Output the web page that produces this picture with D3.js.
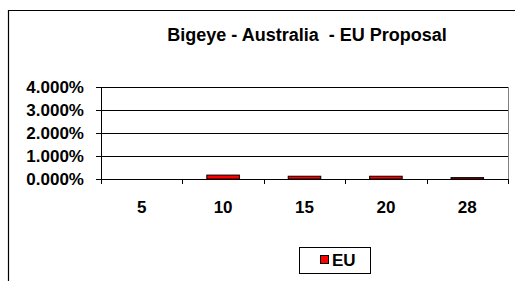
<!DOCTYPE html>
<html>
<head>
<meta charset="utf-8">
<script src="https://cdn.jsdelivr.net/npm/d3@7"></script>
<style>
  body { margin: 0; background: #fff; }
  text { font-family: Arial, "Liberation Sans", sans-serif; font-weight: bold; fill: #000; white-space: pre; }
</style>
</head>
<body>
<div id="chart"></div>
<script>
// chart data
const categories = ['5', '10', '15', '20', '28'];
const euValues = [0, 0.0017, 0.0012, 0.0012, 0.0006];
const yTicks = [0, 0.01, 0.02, 0.03, 0.04];
const seriesName = 'EU';
const title = 'Bigeye - Australia  - EU Proposal';

const width = 515, height = 281;
const plot = { left: 101, right: 508, top: 87, bottom: 179 };

const svg = d3.select('#chart').append('svg')
    .attr('width', width)
    .attr('height', height);

// outer chart frame (only top and left edges visible)
svg.append('path')
    .attr('d', `M8.5,${height} V10.5 H${width}`)
    .attr('fill', 'none')
    .attr('stroke', '#000')
    .attr('stroke-width', 1.2);

svg.append('text')
    .attr('x', 307)
    .attr('y', 41)
    .attr('text-anchor', 'middle')
    .attr('font-size', '18px')
    .text(title);

const x = d3.scaleBand()
    .domain(categories)
    .range([plot.left, plot.right]);

const y = d3.scaleLinear()
    .domain([0, 0.04])
    .range([plot.bottom, plot.top]);

// gridlines
svg.append('g')
    .selectAll('line')
    .data(yTicks)
    .join('line')
    .attr('x1', plot.left - 5)
    .attr('x2', plot.right)
    .attr('y1', d => Math.round(y(d)) + 0.5)
    .attr('y2', d => Math.round(y(d)) + 0.5)
    .attr('stroke', '#000')
    .attr('stroke-width', 1);

// right edge of plot area
svg.append('line')
    .attr('x1', plot.right + 0.5).attr('x2', plot.right + 0.5)
    .attr('y1', plot.top).attr('y2', plot.bottom)
    .attr('stroke', '#808080');

// y axis
svg.append('line')
    .attr('x1', plot.left + 0.5).attr('x2', plot.left + 0.5)
    .attr('y1', plot.top).attr('y2', plot.bottom)
    .attr('stroke', '#000');

svg.append('g')
    .selectAll('text')
    .data(yTicks)
    .join('text')
    .attr('x', 84)
    .attr('y', d => y(d))
    .attr('dy', '0.36em')
    .attr('text-anchor', 'end')
    .attr('font-size', '17px')
    .text(d => d3.format('.3%')(d));

// x axis ticks between categories
const tickPos = categories.map(c => x(c)).concat([plot.right]);
svg.append('g')
    .selectAll('line')
    .data(tickPos)
    .join('line')
    .attr('x1', d => Math.round(d) + 0.5)
    .attr('x2', d => Math.round(d) + 0.5)
    .attr('y1', plot.bottom)
    .attr('y2', plot.bottom + 5)
    .attr('stroke', '#000');

svg.append('g')
    .selectAll('text')
    .data(categories)
    .join('text')
    .attr('x', d => x(d) + x.bandwidth() / 2)
    .attr('y', 213)
    .attr('text-anchor', 'middle')
    .attr('font-size', '17px')
    .text(d => d);

// bars
const barW = x.bandwidth() * 0.4;
svg.append('g')
    .selectAll('rect')
    .data(euValues.map((v, i) => ({ cat: categories[i], v })).filter(d => d.v > 0))
    .join('rect')
    .attr('x', d => x(d.cat) + (x.bandwidth() - barW) / 2)
    .attr('width', barW)
    .attr('y', d => y(d.v))
    .attr('height', d => plot.bottom - y(d.v))
    .attr('fill', '#ff0000')
    .attr('stroke', '#000')
    .attr('stroke-width', 1);

// legend
const legend = svg.append('g');
legend.append('rect')
    .attr('x', 299.5).attr('y', 247.5)
    .attr('width', 71).attr('height', 26)
    .attr('fill', '#fff')
    .attr('stroke', '#000');
legend.append('rect')
    .attr('x', 320.5).attr('y', 255.5)
    .attr('width', 8).attr('height', 8)
    .attr('fill', '#ff0000')
    .attr('stroke', '#000');
legend.append('text')
    .attr('x', 332)
    .attr('y', 266)
    .attr('font-size', '17px')
    .text(seriesName);
</script>
</body>
</html>
